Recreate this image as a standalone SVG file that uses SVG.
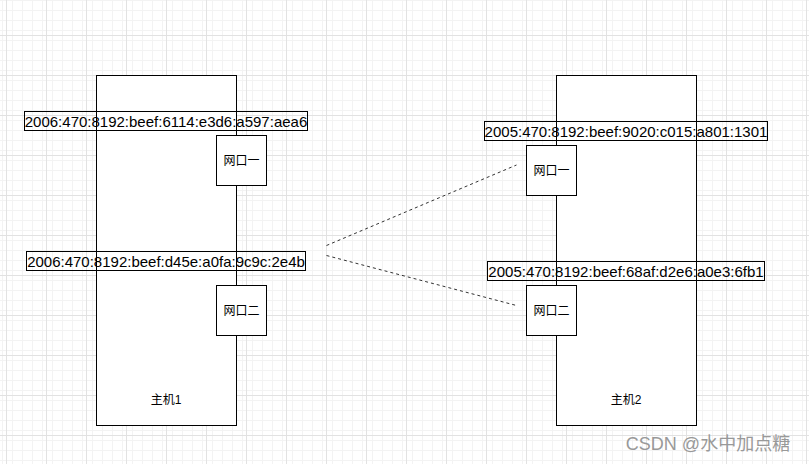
<svg xmlns="http://www.w3.org/2000/svg" width="809" height="464" viewBox="0 0 809 464">
<style>
.box{fill:#fff;stroke:#000;stroke-width:1}
.lbl{fill:none;stroke:#000;stroke-width:1}
.t{font-family:"Liberation Sans","Noto Sans CJK SC",sans-serif;fill:#000;text-anchor:middle;dominant-baseline:central}
.ip{font-size:15px}
.sm{font-size:12px}
.conn{fill:none;stroke:#333;stroke-width:1;stroke-dasharray:3 3}
</style>
<defs>
<pattern id="minor" patternUnits="userSpaceOnUse" x="6" y="-5" width="10" height="10">
<path d="M0.5 0V10M0 0.5H10" fill="none" stroke="#f3f3f3" stroke-width="1"/>
</pattern>
<pattern id="major" patternUnits="userSpaceOnUse" x="6" y="-5" width="40" height="40">
<rect width="40" height="40" fill="url(#minor)"/>
<path d="M0.5 0V40M0 0.5H40" fill="none" stroke="#e2e2e2" stroke-width="1"/>
</pattern>
</defs>
<rect width="809" height="464" fill="#fff"/>
<rect width="809" height="464" fill="url(#major)"/>

<g id="host1">
<rect class="box" x="96.5" y="75.5" width="140" height="350"/>
<text class="t sm" x="166" y="400">主机1</text>
</g>
<g id="host2">
<rect class="box" x="556.5" y="75.5" width="140" height="350"/>
<text class="t sm" x="626" y="400">主机2</text>
</g>

<g id="connectors">
<path class="conn" d="M326.5 245.5L516.5 165"/>
<path class="conn" d="M326.5 255.5L516.5 305.5"/>
</g>

<g id="h1port1">
<rect class="box" x="216.5" y="135.5" width="50" height="50"/>
<text class="t sm" x="241.5" y="160.5">网口一</text>
</g>
<g id="h1port2">
<rect class="box" x="216.5" y="285.5" width="50" height="50"/>
<text class="t sm" x="241.5" y="310.5">网口二</text>
</g>
<g id="h2port1">
<rect class="box" x="526.5" y="145.5" width="50" height="50"/>
<text class="t sm" x="551.5" y="170.5">网口一</text>
</g>
<g id="h2port2">
<rect class="box" x="526.5" y="285.5" width="50" height="50"/>
<text class="t sm" x="551.5" y="310.5">网口二</text>
</g>

<g id="ip1">
<rect class="lbl" x="24.5" y="111.5" width="283" height="19"/>
<text class="t ip" x="166" y="121">2006:470:8192:beef:6114:e3d6:a597:aea6</text>
</g>
<g id="ip2">
<rect class="lbl" x="26.5" y="251.5" width="279" height="19"/>
<text class="t ip" x="166" y="261">2006:470:8192:beef:d45e:a0fa:9c9c:2e4b</text>
</g>
<g id="ip3">
<rect class="lbl" x="484.5" y="121.5" width="283" height="19"/>
<text class="t ip" x="626" y="131">2005:470:8192:beef:9020:c015:a801:1301</text>
</g>
<g id="ip4">
<rect class="lbl" x="487.5" y="261.5" width="277" height="19"/>
<text class="t ip" x="626" y="271">2005:470:8192:beef:68af:d2e6:a0e3:6fb1</text>
</g>

<text class="t" x="708" y="444" style="font-size:18px;fill:#999">CSDN @水中加点糖</text>
</svg>
